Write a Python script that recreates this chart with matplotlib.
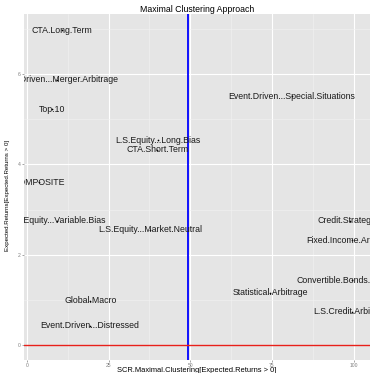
import matplotlib
matplotlib.use("Agg")
import matplotlib.pyplot as plt
import numpy as np

matplotlib.rcParams['font.family'] = ['Liberation Sans', 'DejaVu Sans']

# strategy names with their SCR and expected return
strategies = ['CTA.Long.Term', 'Event.Driven...Merger.Arbitrage', 'Top.10',
              'L.S.Equity...Long.Bias', 'CTA.Short.Term', 'COMPOSITE',
              'Event.Driven...Special.Situations', 'L.S.Equity...Variable.Bias',
              'L.S.Equity...Market.Neutral', 'Global.Macro',
              'Event.Driven...Distressed', 'Credit.Strategies',
              'Fixed.Income.Arbitrage', 'Convertible.Bonds.Arbitrage',
              'Statistical.Arbitrage', 'L.S.Credit.Arbitrage']
scr = [10.7, 9.2, 7.6, 40.1, 39.9, 3.6, 81.2, 9.2, 37.7, 19.4, 19.3,
       99.0, 99.4, 99.5, 74.4, 99.4]
exp_ret = [6.97, 5.87, 5.22, 4.54, 4.32, 3.61, 5.51, 2.75, 2.55, 0.98, 0.43,
           2.75, 2.32, 1.44, 1.16, 0.74]

scr_threshold = 49.2
x_ticks = [0, 25, 50, 75, 100]
y_ticks = [0, 2, 4, 6]

W, H = 370, 373
fig = plt.figure(figsize=(W / 100, H / 100), dpi=100)
ax = fig.add_axes([24 / W, 1 - 360 / H, 1 - 24 / W, (360 - 14) / H])
ax.set_facecolor('#E5E5E5')
for s in ax.spines.values():
    s.set_visible(False)

ax.set_xlim(-0.92, 105.05)
ax.set_ylim(-0.33, 7.33)

# ggplot-like grid
ax.set_xticks(x_ticks)
ax.set_yticks(y_ticks)
ax.set_xticks([12.5, 37.5, 62.5, 87.5], minor=True)
ax.set_yticks([1, 3, 5, 7], minor=True)
ax.grid(which='major', color='white', linewidth=0.8)
ax.grid(which='minor', color='#F2F2F2', linewidth=0.4)
ax.set_axisbelow(True)
ax.tick_params(which='major', length=1.5, width=0.5, color='#7F7F7F',
               labelsize=3.6, labelcolor='#7F7F7F', pad=1.0)
ax.tick_params(which='minor', length=0)

ax.axvline(scr_threshold, color='blue', linewidth=1.3, zorder=2)
ax.axhline(0, color='#E8201A', linewidth=1.0, zorder=2)

ax.scatter(scr, exp_ret, s=1.5, color='black', zorder=3, linewidths=0)
for name, x, y in zip(strategies, scr, exp_ret):
    ax.text(x, y, name, ha='center', va='center', fontsize=6.3,
            color='#1A1A1A', clip_on=True, zorder=4)

fig.text(197 / W, 1 - 9 / H, 'Maximal Clustering Approach', ha='center',
         va='center', fontsize=6.3)
fig.text(197 / W, 1 - 370.5 / H, 'SCR.Maximal.Clustering[Expected.Returns > 0]',
         ha='center', va='center', fontsize=5.4)
fig.text(8 / W, 1 - 195 / H, 'Expected.Returns[Expected.Returns > 0]',
         ha='center', va='center', rotation=90, fontsize=4.4)

fig.savefig('out.png', dpi=100)
